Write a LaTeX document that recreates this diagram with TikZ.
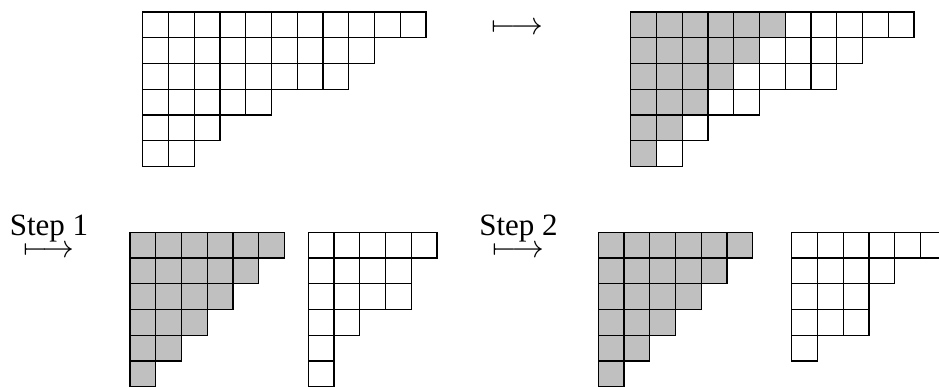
\documentclass[tikz,border=0pt]{standalone}
\usepackage{graphicx}
\usepackage{fontspec}
\setmainfont{Liberation Serif}
\definecolor{cellgray}{RGB}{192,192,192}
\newcommand{\cs}{25.75}
\newcommand{\arrowsym}{\scalebox{1.28}{$\longmapsto$}}
% #1 = x, #2 = y (top-left), #3 = list of length/shaded per row
\newcommand{\ydiag}[3]{%
  \foreach \len/\sh [count=\r from 0] in {#3} {
    \fill[cellgray] (#1, #2+\r*\cs) rectangle ++(\sh*\cs, \cs);
    \foreach \c in {1,...,\len} {
      \draw[cellline] (#1+\c*\cs-\cs, #2+\r*\cs) rectangle ++(\cs, \cs);
    }
  }%
}
\begin{document}
\begin{tikzpicture}[x=1pt, y=-1pt,
  cellline/.style={draw=black, line width=1.3pt},
  lbl/.style={inner sep=0pt, align=center, font=\fontsize{31}{22}\selectfont}]
\path[use as bounding box] (0,0) rectangle (939,387);
\clip (0,0) rectangle (939,387);
% top row
\node[lbl, anchor=center] (a0) at (517.5,28.3) {\arrowsym};
\ydiag{142.7}{12}{11/0,9/0,8/0,5/0,3/0,2/0}
\ydiag{630.7}{12}{11/6,9/5,8/4,5/3,3/2,2/1}
% bottom row
\node[lbl, anchor=north] (s1) at (49,214.5) {Step 1\\\arrowsym};
\ydiag{130}{232.3}{6/6,5/5,4/4,3/3,2/2,1/1}
\ydiag{308.3}{232.3}{5/0,4/0,4/0,2/0,1/0,1/0}
\node[lbl, anchor=north] (s2) at (518.5,214.5) {Step 2\\\arrowsym};
\ydiag{598.3}{232.3}{6/6,5/5,4/4,3/3,2/2,1/1}
\ydiag{791.7}{232.3}{6/0,4/0,3/0,3/0,1/0}
\end{tikzpicture}
\end{document}
